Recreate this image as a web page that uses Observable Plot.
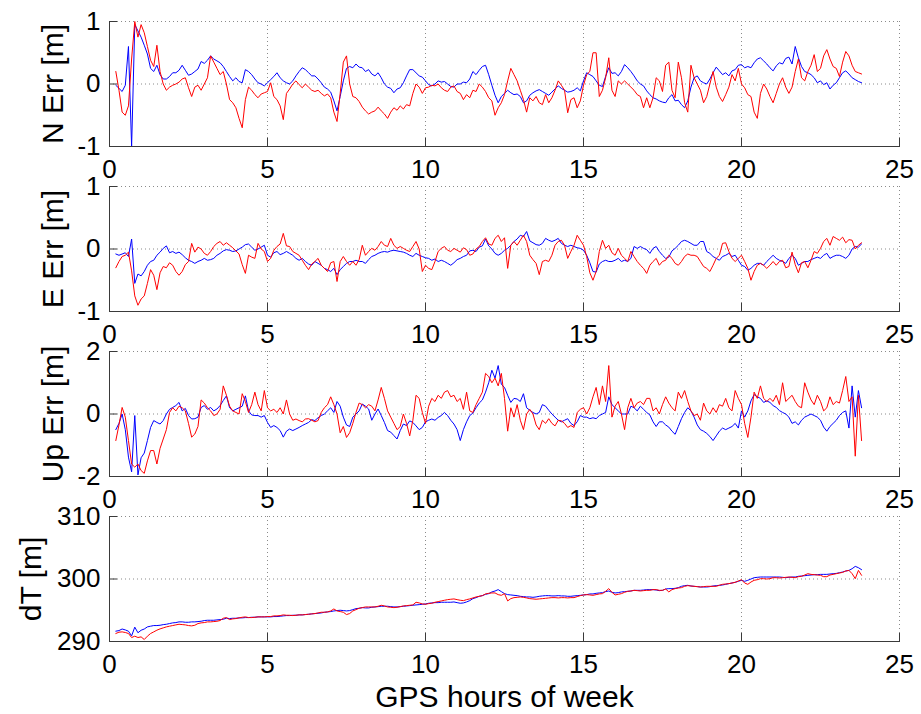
<!DOCTYPE html>
<html>
<head>
<meta charset="utf-8">
<script src="https://cdn.jsdelivr.net/npm/d3@7"></script>
<script src="https://cdn.jsdelivr.net/npm/@observablehq/plot@0.6"></script>
<style>
  body { margin: 0; background: #fff; }
  #fig { position: relative; width: 921px; height: 714px; overflow: hidden; background: #fff; }
  #fig svg { position: absolute; left: 0; overflow: visible; }
</style>
</head>
<body>
<div id="fig"></div>
<script>
// Sample times (GPS hours of week)
const hours = [
  0.2,0.3,0.4,0.5,0.6,0.7,0.8,0.9,1.0,
  1.1,1.2,1.3,1.4,1.5,1.6,1.7,1.8,1.9,2.0,
  2.1,2.2,2.3,2.4,2.5,2.6,2.7,2.8,2.9,3.0,
  3.1,3.2,3.3,3.4,3.5,3.6,3.7,3.8,3.9,4.0,
  4.1,4.2,4.3,4.4,4.5,4.6,4.7,4.8,4.9,5.0,
  5.1,5.2,5.3,5.4,5.5,5.6,5.7,5.8,5.9,6.0,
  6.1,6.2,6.3,6.4,6.5,6.6,6.7,6.8,6.9,7.0,
  7.1,7.2,7.3,7.4,7.5,7.6,7.7,7.8,7.9,8.0,
  8.1,8.2,8.3,8.4,8.5,8.6,8.7,8.8,8.9,9.0,
  9.1,9.2,9.3,9.4,9.5,9.6,9.7,9.8,9.9,10.0,
  10.1,10.2,10.3,10.4,10.5,10.6,10.7,10.8,10.9,11.0,
  11.1,11.2,11.3,11.4,11.5,11.6,11.7,11.8,11.9,12.0,
  12.1,12.2,12.3,12.4,12.5,12.6,12.7,12.8,12.9,13.0,
  13.1,13.2,13.3,13.4,13.5,13.6,13.7,13.8,13.9,14.0,
  14.1,14.2,14.3,14.4,14.5,14.6,14.7,14.8,14.9,15.0,
  15.1,15.2,15.3,15.4,15.5,15.6,15.7,15.8,15.9,16.0,
  16.1,16.2,16.3,16.4,16.5,16.6,16.7,16.8,16.9,17.0,
  17.1,17.2,17.3,17.4,17.5,17.6,17.7,17.8,17.9,18.0,
  18.1,18.2,18.3,18.4,18.5,18.6,18.7,18.8,18.9,19.0,
  19.1,19.2,19.3,19.4,19.5,19.6,19.7,19.8,19.9,20.0,
  20.1,20.2,20.3,20.4,20.5,20.6,20.7,20.8,20.9,21.0,
  21.1,21.2,21.3,21.4,21.5,21.6,21.7,21.8,21.9,22.0,
  22.1,22.2,22.3,22.4,22.5,22.6,22.7,22.8,22.9,23.0,
  23.1,23.2,23.3,23.4,23.5,23.6,23.7,23.8
];

// North error [m]
const nBlue = [
  -0.02,-0.07,-0.12,-0.02,0.6,-1.0,0.95,0.85,0.75,
  0.62,0.48,0.25,0.2,0.3,0.15,0.08,0.08,0.12,0.18,
  0.18,0.22,0.3,0.22,0.14,0.16,0.2,0.24,0.36,0.33,
  0.38,0.45,0.4,0.37,0.34,0.28,0.2,0.12,0.05,0.1,
  0.04,0.02,0.23,0.2,0.15,0.08,0.02,0.0,-0.03,0.02,
  0.07,0.12,0.18,0.1,0.05,0.02,0.0,0.05,0.13,0.2,
  0.26,0.23,0.18,0.13,0.13,0.08,0.02,-0.05,-0.08,-0.13,
  -0.27,-0.43,-0.2,0.05,0.25,0.28,0.26,0.32,0.27,0.26,
  0.2,0.23,0.16,0.13,0.18,0.1,0.0,-0.05,-0.07,-0.14,
  -0.08,-0.06,0.02,0.13,0.23,0.23,0.18,0.13,0.11,0.05,
  -0.01,-0.03,0.0,0.05,0.03,0.04,0.0,-0.04,-0.05,0.0,
  0.0,0.03,0.02,0.08,0.2,0.15,0.22,0.28,0.3,0.15,
  -0.02,-0.18,-0.3,-0.2,-0.15,-0.1,-0.14,-0.17,-0.16,-0.2,
  -0.3,-0.27,-0.18,-0.14,-0.11,-0.09,-0.12,-0.15,-0.18,-0.13,
  -0.08,-0.03,-0.07,-0.1,-0.13,-0.12,-0.1,-0.06,-0.11,0.05,
  0.18,0.15,0.12,0.05,-0.02,-0.04,0.12,0.26,0.17,0.18,
  0.13,0.2,0.31,0.26,0.2,0.13,0.05,0.0,-0.03,-0.11,
  -0.17,-0.22,-0.24,-0.27,-0.29,-0.3,-0.22,-0.17,-0.27,-0.26,
  -0.33,-0.38,-0.27,-0.05,0.1,0.13,0.05,0.02,0.0,0.08,
  0.18,0.27,0.21,0.15,0.18,0.13,0.21,0.23,0.3,0.31,
  0.26,0.28,0.26,0.34,0.4,0.42,0.37,0.32,0.26,0.21,
  0.29,0.34,0.32,0.41,0.43,0.32,0.6,0.42,0.28,0.2,
  0.18,0.15,0.1,0.02,0.05,-0.01,0.02,-0.08,-0.02,0.02,
  0.1,0.18,0.21,0.16,0.1,0.07,0.04,0.02
];
const nRed = [
  0.2,-0.1,-0.45,-0.5,-0.35,0.4,1.0,0.75,0.95,
  0.82,0.6,0.38,0.28,0.62,0.2,0.0,-0.1,-0.05,-0.02,
  0.0,0.03,0.08,0.1,-0.06,-0.2,-0.05,-0.02,-0.1,0.0,
  0.1,0.45,0.35,0.25,0.15,0.2,0.0,-0.25,-0.3,-0.38,
  -0.55,-0.7,-0.25,-0.05,-0.1,-0.17,-0.22,-0.16,-0.14,-0.12,
  0.02,-0.2,-0.25,-0.35,-0.57,-0.15,-0.08,0.0,0.05,-0.01,
  -0.06,0.0,-0.05,-0.1,-0.12,-0.1,-0.15,-0.19,-0.16,-0.22,
  -0.45,-0.6,-0.15,0.35,0.45,0.0,-0.2,-0.22,-0.28,-0.37,
  -0.43,-0.48,-0.45,-0.43,-0.37,-0.43,-0.48,-0.55,-0.45,-0.38,
  -0.42,-0.35,-0.4,-0.33,-0.35,-0.15,0.0,-0.05,-0.15,-0.06,
  -0.05,-0.02,-0.03,0.0,-0.06,-0.1,-0.12,-0.05,-0.03,-0.12,
  -0.15,-0.25,-0.17,-0.22,-0.1,-0.12,0.0,-0.05,-0.12,-0.22,
  -0.27,-0.5,-0.38,-0.3,-0.17,0.05,0.25,0.15,0.05,-0.1,
  -0.25,-0.45,-0.22,-0.27,-0.2,-0.3,-0.33,-0.17,-0.3,-0.22,
  -0.1,0.05,-0.02,-0.1,-0.46,-0.25,-0.22,-0.38,-0.27,-0.02,
  0.15,0.2,0.5,0.5,-0.2,-0.1,0.1,0.42,-0.1,-0.2,
  0.05,0.0,0.05,0.0,-0.05,-0.1,-0.17,-0.2,-0.38,-0.22,
  -0.38,-0.22,0.1,0.05,-0.12,0.3,0.35,-0.1,-0.22,0.35,
  0.1,-0.3,-0.45,0.3,0.1,0.0,-0.1,-0.3,-0.2,0.0,
  0.2,-0.05,-0.2,-0.28,-0.17,-0.05,0.15,0.05,0.25,0.0,
  -0.06,-0.17,-0.2,-0.45,-0.55,-0.15,0.0,-0.08,-0.2,-0.3,
  -0.15,0.0,0.1,-0.05,-0.15,-0.05,0.2,0.4,0.1,0.05,
  0.2,0.3,0.47,0.2,0.25,0.45,0.55,0.4,0.28,0.25,
  0.12,0.35,0.52,0.45,0.3,0.2,0.18,0.16
];

// East error [m]
const eBlue = [
  -0.08,-0.1,-0.08,-0.06,-0.12,0.16,-0.55,-0.4,-0.43,
  -0.36,-0.26,-0.2,-0.18,-0.1,-0.05,0.01,0.05,-0.06,-0.04,
  -0.07,-0.05,-0.09,-0.14,-0.18,-0.2,-0.23,-0.2,-0.18,-0.15,
  -0.18,-0.17,-0.15,-0.1,-0.07,-0.03,-0.01,-0.02,-0.04,-0.03,
  0.0,0.03,0.07,0.08,0.03,-0.02,0.0,0.03,0.06,-0.1,
  -0.13,-0.06,-0.04,-0.09,-0.07,-0.04,-0.07,-0.1,-0.15,-0.18,
  -0.15,-0.2,-0.24,-0.26,-0.2,-0.23,-0.26,-0.31,-0.33,-0.36,
  -0.31,-0.41,-0.33,-0.28,-0.23,-0.2,-0.2,-0.18,-0.2,-0.2,
  -0.23,-0.17,-0.12,-0.1,-0.07,-0.05,-0.04,-0.05,-0.03,-0.02,
  -0.03,-0.04,-0.05,-0.07,-0.1,-0.12,-0.07,-0.1,-0.12,-0.14,
  -0.15,-0.18,-0.16,-0.2,-0.18,-0.2,-0.23,-0.26,-0.22,-0.17,
  -0.15,-0.12,-0.1,-0.03,-0.02,-0.04,0.03,0.05,0.16,0.05,
  0.0,-0.07,-0.1,-0.07,-0.02,0.01,0.06,0.12,0.16,0.22,
  0.2,0.28,0.13,0.1,0.07,0.06,0.09,0.17,0.14,0.12,
  0.14,0.17,0.09,0.06,0.04,0.06,0.04,0.02,0.01,-0.02,
  -0.1,-0.22,-0.36,-0.37,-0.24,-0.2,-0.18,-0.2,-0.2,-0.18,
  -0.15,-0.2,-0.18,-0.2,-0.15,0.04,0.01,0.04,0.01,-0.01,
  -0.07,0.01,0.04,-0.04,-0.1,-0.15,-0.13,-0.03,0.01,0.06,
  0.12,0.14,0.12,0.09,0.06,0.06,0.12,0.12,-0.04,-0.07,
  -0.12,-0.15,-0.18,-0.12,-0.1,-0.07,-0.12,-0.1,-0.18,-0.26,
  -0.28,-0.34,-0.31,-0.26,-0.23,-0.23,-0.26,-0.2,-0.15,-0.1,
  -0.15,-0.18,-0.2,-0.23,-0.15,-0.1,-0.15,-0.26,-0.23,-0.2,
  -0.2,-0.17,-0.15,-0.13,-0.15,-0.1,-0.07,-0.15,-0.12,-0.1,
  -0.1,-0.12,-0.15,-0.1,0.0,0.04,0.03,0.08
];
const eRed = [
  -0.3,-0.2,-0.12,-0.1,-0.05,-0.35,-0.75,-0.9,-0.8,
  -0.75,-0.55,-0.33,-0.42,-0.65,-0.38,-0.28,-0.3,-0.22,-0.26,
  -0.36,-0.42,-0.36,-0.25,-0.2,0.09,-0.05,0.03,0.0,-0.07,
  -0.1,-0.04,0.04,0.09,0.12,0.06,0.1,0.06,0.02,-0.03,
  -0.08,-0.25,-0.39,-0.1,-0.13,-0.15,0.09,0.0,-0.04,-0.2,
  -0.15,-0.02,0.04,0.08,0.25,0.05,0.04,-0.04,-0.07,-0.1,
  -0.18,-0.26,-0.33,-0.24,-0.2,-0.15,-0.26,-0.31,-0.36,-0.22,
  -0.2,-0.52,-0.2,-0.12,-0.2,-0.26,-0.2,-0.26,-0.17,0.06,
  -0.1,-0.04,0.01,-0.02,0.04,0.12,0.06,0.04,0.17,0.06,
  0.01,0.04,0.01,-0.02,-0.04,0.04,0.12,0.0,-0.36,-0.26,
  -0.31,-0.33,-0.2,-0.04,0.01,0.04,-0.02,-0.04,0.01,-0.02,
  -0.05,0.02,-0.01,-0.1,-0.08,0.0,0.04,0.12,0.18,0.08,
  0.06,0.17,0.22,0.12,0.18,-0.31,0.06,0.12,0.06,0.14,
  0.22,0.12,-0.1,-0.17,-0.23,-0.41,-0.2,-0.18,-0.2,-0.1,
  0.06,0.12,0.14,0.06,-0.15,-0.04,0.06,0.22,0.14,0.06,
  -0.12,-0.38,-0.5,-0.36,-0.04,0.14,0.01,0.06,-0.06,-0.1,
  0.01,-0.1,-0.15,-0.2,-0.04,-0.12,-0.2,-0.26,-0.31,-0.39,
  -0.26,-0.2,-0.15,-0.26,-0.2,-0.18,-0.1,-0.15,-0.23,-0.26,
  -0.2,-0.12,-0.08,-0.1,-0.1,-0.12,-0.2,-0.28,-0.31,-0.36,
  -0.26,-0.15,-0.1,0.09,0.1,-0.04,-0.15,-0.2,-0.15,-0.1,
  -0.2,-0.31,-0.5,-0.36,-0.26,-0.23,-0.26,-0.31,-0.26,-0.2,
  -0.26,-0.2,-0.18,-0.3,-0.28,-0.05,-0.25,-0.38,-0.22,-0.2,
  -0.3,-0.18,-0.04,-0.07,0.01,0.12,0.17,0.06,0.2,0.17,
  0.14,0.19,0.1,0.15,0.14,0.0,0.06,0.1
];

// Up error [m]
const uBlue = [
  -0.5,-0.3,0.0,-0.5,-1.38,-1.85,-0.05,-1.95,-1.4,
  -1.25,-0.85,-0.43,-0.21,-0.27,-0.32,-0.21,0.0,0.15,0.21,
  0.27,0.37,0.1,0.18,-0.05,-0.16,-0.15,-0.1,0.21,0.27,
  0.15,0.21,0.1,0.16,0.27,0.43,0.58,0.2,0.1,0.15,
  0.2,0.25,0.58,0.1,-0.03,-0.05,-0.05,-0.1,-0.05,-0.27,
  -0.43,-0.37,-0.43,-0.53,-0.74,-0.55,-0.48,-0.53,-0.48,-0.43,
  -0.37,-0.32,-0.27,-0.18,-0.21,-0.12,-0.05,0.0,0.1,0.2,
  0.05,0.4,0.25,-0.1,-0.35,-0.4,-0.1,0.0,0.1,0.32,
  0.25,0.16,-0.2,0.0,0.16,-0.05,-0.27,-0.53,-0.58,-0.69,
  -0.8,-0.53,-0.32,-0.37,-0.22,-0.27,-0.38,-0.5,-0.43,-0.25,
  -0.2,-0.16,-0.2,-0.11,-0.05,0.05,-0.05,-0.2,-0.32,-0.5,
  -0.85,-0.5,-0.25,-0.05,0.03,0.2,0.35,0.45,0.7,1.0,
  1.4,1.15,1.55,0.95,0.85,0.6,0.37,0.5,0.48,0.4,
  0.65,0.2,0.12,0.05,0.0,0.05,0.3,0.25,0.12,0.0,
  -0.1,-0.2,-0.25,-0.2,-0.15,-0.3,-0.37,-0.25,-0.05,-0.1,
  -0.1,-0.15,-0.12,-0.15,-0.05,0.0,0.05,0.55,0.3,0.2,
  0.1,0.0,0.0,0.0,0.25,0.2,0.1,0.25,0.15,0.05,
  -0.03,-0.25,-0.4,-0.25,-0.25,-0.35,-0.42,-0.55,-0.65,-0.4,
  -0.15,0.05,0.2,0.1,-0.1,-0.35,-0.5,-0.55,-0.62,-0.72,
  -0.85,-0.7,-0.55,-0.45,-0.5,-0.45,-0.4,-0.3,-0.45,0.1,
  -0.1,0.1,0.42,0.62,0.55,0.5,0.37,0.42,0.37,0.27,
  0.21,0.11,0.05,0.0,-0.1,-0.3,-0.25,-0.35,-0.2,-0.1,
  -0.05,0.0,-0.05,-0.1,-0.2,-0.42,-0.55,-0.4,-0.3,-0.2,
  -0.05,0.05,0.1,-0.45,0.9,-0.1,0.75,0.2
];
const uRed = [
  -0.85,-0.35,0.21,-0.1,-0.85,-1.6,-1.7,-1.6,-1.81,
  -1.9,-1.5,-1.17,-1.17,-1.6,-1.1,-0.8,-0.5,0.05,0.2,
  0.1,0.25,0.2,0.1,-0.3,-0.74,-0.64,-0.4,0.45,0.35,
  0.2,0.1,-0.05,0.0,0.15,0.9,0.6,0.25,0.1,0.05,
  0.0,0.65,0.4,0.05,0.3,0.7,0.3,0.1,0.75,0.2,
  0.1,0.15,0.05,0.2,0.0,0.45,0.0,-0.2,-0.16,-0.21,
  -0.25,-0.16,-0.15,-0.2,-0.25,-0.21,0.05,0.2,0.3,0.55,
  0.3,0.0,-0.6,-0.4,-0.75,-0.6,-0.3,0.05,0.35,0.3,
  0.2,0.3,0.25,0.1,0.45,0.85,0.5,0.1,-0.1,-0.3,
  -0.5,-0.4,0.0,-0.3,-0.7,-0.2,0.6,0.5,0.05,-0.3,
  0.25,0.5,0.4,0.6,0.5,0.7,0.75,0.55,0.6,0.4,
  0.5,0.15,0.7,0.1,0.05,0.3,0.5,0.7,1.3,1.2,
  1.0,1.15,0.9,1.3,0.5,-0.55,0.2,-0.1,0.3,-0.2,
  -0.5,0.0,0.15,0.0,-0.35,-0.5,-0.2,-0.3,-0.15,-0.3,
  -0.38,-0.2,-0.22,-0.3,-0.43,-0.37,-0.43,0.05,0.15,0.2,
  0.0,0.2,0.55,0.85,0.3,0.9,0.4,1.55,-0.1,0.25,
  0.4,0.0,-0.5,0.2,0.5,0.2,0.35,0.4,0.3,0.5,
  0.5,0.1,0.2,0.0,0.3,0.55,0.35,0.2,0.1,0.7,
  0.5,0.75,0.4,0.1,-0.05,0.0,-0.2,0.35,0.1,0.0,
  0.2,0.05,0.3,0.25,0.5,0.2,0.1,0.75,0.5,0.3,
  -0.3,-0.75,-0.1,0.7,0.5,0.9,0.5,0.4,0.5,0.4,
  0.6,0.3,1.0,0.4,0.5,0.6,0.4,0.25,0.2,1.0,
  0.7,0.45,0.3,0.6,0.4,0.1,0.2,0.55,0.3,0.4,
  0.35,0.75,1.2,0.4,0.55,-1.35,0.6,-0.85
];

// Receiver clock offset dT [m]
const dtBlue = [
  291.65,291.75,292.0,291.85,291.65,290.9,292.3,291.4,291.8,
  292.0,292.34,292.45,292.55,292.55,292.6,292.7,292.76,292.87,292.98,
  293.03,293.14,293.14,293.08,293.08,293.14,293.14,293.19,293.24,293.35,
  293.4,293.4,293.4,293.46,293.51,293.56,293.72,293.67,293.72,293.72,
  293.78,293.78,293.83,293.83,293.88,293.88,293.94,293.94,293.94,293.94,
  293.94,293.99,293.99,294.04,294.1,294.15,294.15,294.2,294.2,294.26,
  294.26,294.31,294.36,294.42,294.47,294.52,294.57,294.68,294.73,294.79,
  294.89,294.95,295.0,294.95,294.89,294.95,295.1,295.26,295.32,295.42,
  295.37,295.37,295.48,295.53,295.58,295.64,295.64,295.64,295.58,295.53,
  295.53,295.58,295.64,295.69,295.74,295.8,295.85,295.9,295.96,296.01,
  296.12,296.17,296.22,296.22,296.28,296.28,296.28,296.28,296.33,296.22,
  296.12,296.17,296.33,296.54,296.86,297.02,297.23,297.34,297.55,297.66,
  297.93,298.08,298.3,297.98,297.66,297.5,297.45,297.39,297.34,297.23,
  297.18,297.13,297.13,297.07,297.13,297.23,297.29,297.34,297.34,297.29,
  297.29,297.34,297.29,297.29,297.23,297.23,297.29,297.34,297.39,297.45,
  297.5,297.61,297.61,297.71,297.77,297.82,297.98,298.08,297.87,297.77,
  297.82,297.93,297.98,298.03,298.08,298.19,298.19,298.19,298.24,298.3,
  298.3,298.3,298.24,298.14,298.19,298.4,298.46,298.46,298.51,298.62,
  298.83,298.94,298.99,298.88,298.83,298.78,298.72,298.72,298.72,298.78,
  298.88,298.94,298.99,299.04,299.15,299.26,299.36,299.47,299.63,299.79,
  299.63,299.79,300.0,300.21,300.27,300.32,300.32,300.32,300.32,300.32,
  300.32,300.32,300.27,300.21,300.27,300.32,300.32,300.43,300.48,300.53,
  300.59,300.64,300.69,300.69,300.74,300.74,300.74,300.8,300.85,300.9,
  301.01,301.12,301.28,301.38,301.65,302.02,301.81,301.49
];
const dtRed = [
  291.28,291.49,291.54,291.44,291.28,290.64,290.85,290.64,290.74,
  290.32,290.85,291.28,291.54,291.81,292.02,292.18,292.34,292.45,292.55,
  292.66,292.76,292.71,292.66,292.55,292.5,292.6,292.87,292.98,293.03,
  293.14,293.14,293.19,293.24,293.35,293.72,293.83,293.51,293.62,293.67,
  293.78,293.88,293.94,293.83,293.83,293.88,293.94,293.94,293.94,293.99,
  293.99,294.1,294.1,294.15,294.26,294.2,294.2,294.15,294.2,294.26,
  294.26,294.31,294.36,294.42,294.47,294.57,294.68,294.68,294.73,294.89,
  295.21,294.89,294.79,294.68,294.31,294.47,294.89,295.1,295.32,295.42,
  295.53,295.53,295.53,295.53,295.64,295.8,295.69,295.53,295.48,295.42,
  295.48,295.58,295.69,295.74,295.8,295.85,296.28,296.17,296.01,295.96,
  296.06,296.12,296.28,296.38,296.49,296.6,296.7,296.76,296.81,296.7,
  296.6,296.54,296.7,296.81,296.97,297.13,297.23,297.34,297.61,297.71,
  297.77,297.77,297.5,297.39,297.66,296.49,296.86,297.02,297.07,297.13,
  297.07,296.97,296.86,296.81,296.76,296.81,296.86,296.91,296.97,297.02,
  297.02,296.97,297.02,297.02,296.97,297.02,297.02,297.18,297.34,297.45,
  297.5,297.45,297.39,297.5,297.61,297.66,298.03,298.46,297.87,297.45,
  297.55,297.66,297.87,298.03,298.08,298.19,298.14,298.08,298.14,298.19,
  298.19,298.3,298.3,298.19,298.19,298.4,297.93,298.3,298.46,298.56,
  298.62,298.83,298.94,298.88,298.83,298.78,298.72,298.78,298.83,298.83,
  298.83,298.83,298.99,299.15,299.2,299.26,299.36,299.47,299.68,299.89,
  299.36,299.15,299.52,299.79,299.89,300.05,300.05,300.0,300.05,300.21,
  300.21,300.16,300.21,300.27,300.32,300.27,300.21,300.37,300.43,300.64,
  300.85,300.74,300.69,300.64,300.59,300.37,300.37,300.64,300.74,300.85,
  300.96,301.06,301.28,301.38,300.85,300.05,301.38,300.59
];

// Axis ticks and labels
const xTicks = [0, 5, 10, 15, 20, 25];
const panelLabels = ["N Err [m]", "E Err [m]", "Up Err [m]", "dT [m]"];
const panelTicks = [[-1, 0, 1], [-1, 0, 1], [-2, 0, 2], [290, 300, 310]];
const xLabel = "GPS hours of week";

// Layout of the four stacked axes
const panels = [
  {blue: nBlue,  red: nRed,  top: 21,  labelDx: -56},
  {blue: eBlue,  red: eRed,  top: 186, labelDx: -56},
  {blue: uBlue,  red: uRed,  top: 351, labelDx: -56},
  {blue: dtBlue, red: dtRed, top: 516, labelDx: -78}
];

const W = 921, mL = 109, mR = 22, innerH = 125, innerW = W - mL - mR;
const font = "'Liberation Sans', Arial, Helvetica, sans-serif";
const axisColor = "#3a3a3a";
const gridStyle = {stroke: "#8a8a8a", strokeOpacity: 1, strokeDasharray: "1,3"};
const fig = document.getElementById("fig");

panels.forEach((p, i) => {
  const last = i === panels.length - 1;
  const mT = 12, mB = last ? 77 : 40;
  const ticks = panelTicks[i];
  const rows = hours.map((h, k) => ({h, blue: p.blue[k], red: p.red[k]}));

  const marks = [
    Plot.gridX({ticks: xTicks, ...gridStyle}),
    Plot.gridY({ticks: ticks, ...gridStyle}),
    Plot.lineY(rows, {x: "h", y: "blue", stroke: "#0000ff", strokeWidth: 1, clip: true}),
    Plot.lineY(rows, {x: "h", y: "red", stroke: "#ff0000", strokeWidth: 1, clip: true}),
    // inward tick marks
    Plot.tickX(xTicks, {x: d => d, stroke: axisColor, insetTop: innerH - 8}),
    Plot.tickY(ticks, {y: d => d, stroke: axisColor, insetRight: innerW - 8}),
    Plot.axisX({ticks: xTicks, tickSize: 0, tickPadding: 13, label: null, tickFormat: d => String(d)}),
    Plot.axisY({ticks: ticks, tickSize: 0, tickPadding: 9, label: null, tickFormat: d => String(d)}),
    Plot.frame({anchor: "left", stroke: axisColor}),
    Plot.frame({anchor: "bottom", stroke: axisColor}),
    Plot.text([panelLabels[i]], {
      text: d => d, frameAnchor: "left", dx: p.labelDx, rotate: -90,
      textAnchor: "middle", lineAnchor: "middle", fontSize: 30, fill: "#000"
    })
  ];
  if (last) {
    marks.push(Plot.text([xLabel], {
      text: d => d, frameAnchor: "bottom", dy: 56,
      textAnchor: "middle", lineAnchor: "middle", fontSize: 30, fill: "#000"
    }));
  }

  const svg = Plot.plot({
    width: W,
    height: innerH + mT + mB,
    marginLeft: mL, marginRight: mR, marginTop: mT, marginBottom: mB,
    style: {fontFamily: font, fontSize: "26px", color: "#000", background: "transparent", overflow: "visible"},
    x: {domain: [0, 25]},
    y: {domain: [ticks[0], ticks[ticks.length - 1]]},
    marks
  });
  svg.style.top = (p.top - mT) + "px";
  svg.style.maxWidth = "none";
  fig.appendChild(svg);
});
</script>
</body>
</html>
